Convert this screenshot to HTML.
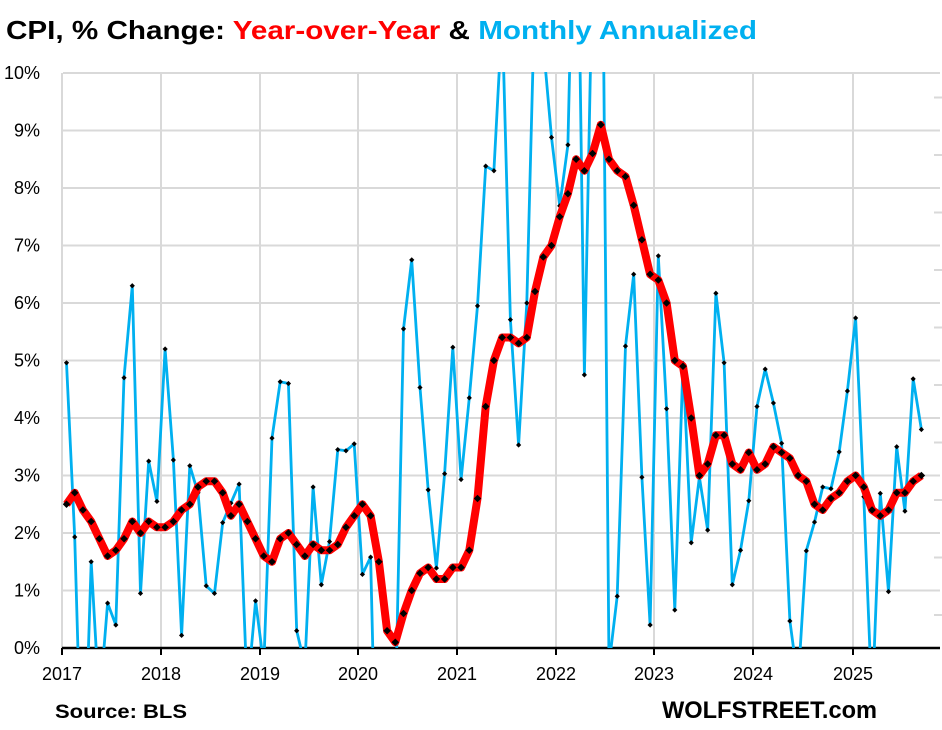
<!DOCTYPE html>
<html><head><meta charset="utf-8">
<style>
html,body{margin:0;padding:0;background:#fff;width:942px;height:730px;overflow:hidden;}
body{font-family:"Liberation Sans",Arial,sans-serif;}
svg{display:block;}
</style></head>
<body>
<svg id="c" width="942" height="730" xmlns="http://www.w3.org/2000/svg" font-family="Liberation Sans, Arial, sans-serif">
<text x="6" y="39" font-size="26" font-weight="bold" textLength="751" lengthAdjust="spacingAndGlyphs"><tspan fill="#000">CPI, % Change: </tspan><tspan fill="#ff0000">Year-over-Year</tspan><tspan fill="#000"> &amp; </tspan><tspan fill="#00b0f0">Monthly Annualized</tspan></text>
<text x="55" y="718" font-size="19" font-weight="bold" fill="#000" textLength="132" lengthAdjust="spacingAndGlyphs">Source: BLS</text>
<text x="662" y="718" font-size="24" font-weight="bold" fill="#000" textLength="215" lengthAdjust="spacingAndGlyphs">WOLFSTREET.com</text>
</svg>
<script>
const svg=document.getElementById('c');const NS='http://www.w3.org/2000/svg';
function el(t,a,txt){const e=document.createElementNS(NS,t);for(const k in a)e.setAttribute(k,a[k]);if(txt!==undefined)e.textContent=txt;svg.appendChild(e);return e;}
const X0=63,X1=940,Y0=648,PY=57.5;
const yr=[62,161,260,358,457,556,654,753,853];
const d=el('defs',{});const cp=document.createElementNS(NS,'clipPath');cp.setAttribute('id','cl');const r=document.createElementNS(NS,'rect');r.setAttribute('x',X0);r.setAttribute('y',72);r.setAttribute('width',X1-X0+4);r.setAttribute('height',Y0-72);cp.appendChild(r);d.appendChild(cp);
for(let i=0;i<=10;i++){const y=Y0-i*PY;if(i>0)el('line',{x1:X0,x2:X1,y1:y,y2:y,stroke:'#d9d9d9','stroke-width':2});
el('text',{x:40,y:y+6,'font-size':18,'text-anchor':'end',fill:'#000'},i+'%');}
for(const x of yr){el('line',{x1:x,x2:x,y1:73,y2:Y0,stroke:'#d9d9d9','stroke-width':2});}
for(let i=0;i<11;i++){const y=270+i*57.5-57.5*4;if(y>80&&y<645)el('line',{x1:934,x2:942,y1:y,y2:y,stroke:'#d9d9d9','stroke-width':2});}
el('line',{x1:X0-1,x2:X1,y1:Y0,y2:Y0,stroke:'#000','stroke-width':2.5});
yr.forEach((x,i)=>{el('line',{x1:x,x2:x,y1:Y0,y2:Y0+7,stroke:'#000','stroke-width':2});el('text',{x:x,y:680,'font-size':18,'text-anchor':'middle',fill:'#000'},String(2017+i));});
const yoy=[2.5,2.7,2.4,2.2,1.9,1.6,1.7,1.9,2.2,2.0,2.2,2.1,
2.1,2.2,2.4,2.5,2.8,2.9,2.9,2.7,2.3,2.5,2.2,1.9,
1.6,1.5,1.9,2.0,1.8,1.6,1.8,1.7,1.7,1.8,2.1,2.3,
2.5,2.3,1.5,0.3,0.1,0.6,1.0,1.3,1.4,1.2,1.2,1.4,
1.4,1.7,2.6,4.2,5.0,5.4,5.4,5.3,5.4,6.2,6.8,7.0,
7.5,7.9,8.5,8.3,8.6,9.1,8.5,8.3,8.2,7.7,7.1,6.5,
6.4,6.0,5.0,4.9,4.0,3.0,3.2,3.7,3.7,3.2,3.1,3.4,
3.1,3.2,3.5,3.4,3.3,3.0,2.9,2.5,2.4,2.6,2.7,2.9,
3.0,2.8,2.4,2.3,2.4,2.7,2.7,2.9,3.0];
const mon=[4.96,1.93,-3,1.5,-1,0.78,0.4,4.7,6.3,0.95,3.25,2.55,
5.2,3.27,0.22,3.17,2.7,1.08,0.95,2.18,2.52,2.85,-0.8,0.82,
-0.3,3.65,4.63,4.6,0.3,-0.3,2.8,1.1,1.85,3.45,3.43,3.55,
1.28,1.58,-4.5,-8,-1.2,5.55,6.75,4.53,2.75,1.39,3.03,5.23,
2.93,4.35,5.95,8.38,8.3,11,5.71,3.53,6.0,11.5,10.5,8.88,
7.69,8.75,15,4.75,12,16,-0.3,0.9,5.25,6.5,2.97,0.4,
6.82,4.16,0.66,4.95,1.83,2.97,2.05,6.17,4.96,1.1,1.7,2.56,
4.2,4.85,4.26,3.56,0.47,-0.6,1.69,2.19,2.8,2.77,3.41,4.47,
5.74,2.63,-1,2.69,0.98,3.5,2.38,4.68,3.8];
const px=i=>66.5+i*8.22, py=v=>Y0-v*PY;
const g=document.createElementNS(NS,'g');g.setAttribute('clip-path','url(#cl)');svg.appendChild(g);
function pl(arr,col,w){const p=document.createElementNS(NS,'polyline');p.setAttribute('points',arr.map((v,i)=>px(i).toFixed(1)+','+py(v).toFixed(1)).join(' '));p.setAttribute('fill','none');p.setAttribute('stroke',col);p.setAttribute('stroke-width',w);p.setAttribute('stroke-linejoin','round');g.appendChild(p);}
function mk(arr,s){arr.forEach((v,i)=>{if(v<0||v>10)return;const x=px(i),y=py(v);const q=document.createElementNS(NS,'polygon');q.setAttribute('points',`${x},${y-s} ${x+s},${y} ${x},${y+s} ${x-s},${y}`);q.setAttribute('fill','#000');g.appendChild(q);});}
pl(mon,'#00b0f0',2.8);mk(mon,2.6);
pl(yoy,'#ff0000',8);mk(yoy,3.8);
</script>
</body></html>
